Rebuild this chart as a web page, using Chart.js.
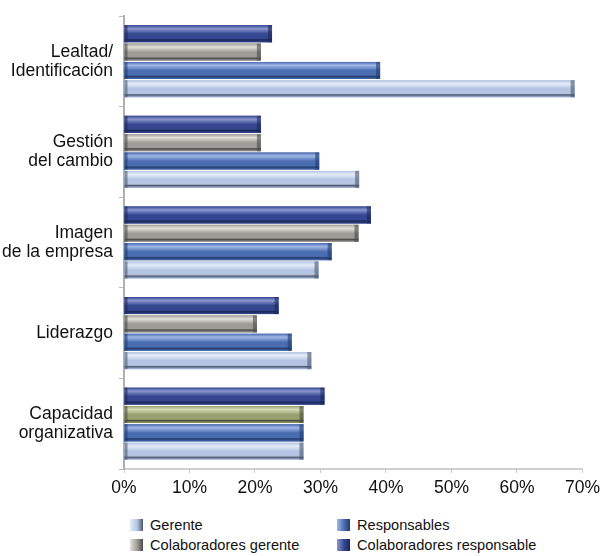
<!DOCTYPE html>
<html>
<head>
<meta charset="utf-8">
<script src="https://cdn.jsdelivr.net/npm/chart.js@4"></script>
<style>
  html,body{margin:0;padding:0;background:#fff;}
  #wrap{position:relative;width:605px;height:556px;font-family:"Liberation Sans",Arial,sans-serif;}
  #c{position:absolute;left:0;top:0;}
  .lg{position:absolute;font-size:14.6px;color:#111;line-height:18px;white-space:nowrap;}
  .lg i{position:absolute;left:-20px;top:3px;width:13px;height:12px;display:block;}
</style>
</head>
<body>
<div id="wrap">
  <canvas id="c" width="605" height="505"></canvas>
  <div id="legend"></div>
</div>
<script>
const categories = [["Lealtad/","Identificación"],["Gestión","del cambio"],["Imagen","de la empresa"],["Liderazgo"],["Capacidad","organizativa"]];
const tickValues = [0,10,20,30,40,50,60,70];
// series listed top bar first within each group
const colabResponsable = [22.6, 20.9, 37.7, 23.6, 30.6];
const colabGerente     = [20.9, 20.9, 35.8, 20.3, 27.4];
const responsables     = [39.1, 29.8, 31.7, 25.6, 27.4];
const gerente          = [68.8, 35.9, 29.7, 28.6, 27.4];

const palette = {
  "Colaboradores responsable": ["#8a98d0","#34468f","#1c2858"],
  "Colaboradores gerente": ["#e2e2da","#9d9c96","#4a4a48"],
  "Responsables": ["#9fb8e8","#4a6cb0","#203a6c"],
  "Gerente": ["#e4ecf8","#b4c4e2","#4c5870"]
};
const oliveCap = ["#d6dcb8","#98a070","#4a4e38"];

const datasets = [
  {label:"Colaboradores responsable", data:colabResponsable},
  {label:"Colaboradores gerente", data:colabGerente},
  {label:"Responsables", data:responsables},
  {label:"Gerente", data:gerente}
].map(d => Object.assign(d,{backgroundColor:palette[d.label][1], borderWidth:0, barPercentage:0.93, categoryPercentage:0.81}));

const shadePlugin = {
  id:'shade',
  afterDatasetsDraw(chart){
    const ctx = chart.ctx;
    chart.data.datasets.forEach((ds,di)=>{
      const meta = chart.getDatasetMeta(di);
      meta.data.forEach((bar,i)=>{
        const p = bar.getProps(['x','y','base','height'], true);
        const left = Math.min(p.x,p.base), w = Math.abs(p.x-p.base);
        const top = p.y - p.height/2, h = p.height;
        let cols = palette[ds.label];
        if (ds.label==="Colaboradores gerente" && i===4) cols = oliveCap;
        const g = ctx.createLinearGradient(0,top,0,top+h);
        g.addColorStop(0,cols[1]);
        g.addColorStop(0.2,cols[0]);
        g.addColorStop(0.5,cols[1]);
        g.addColorStop(0.78,cols[1]);
        g.addColorStop(0.85,cols[2]);
        g.addColorStop(1,cols[1]);
        ctx.save();
        ctx.fillStyle = g;
        ctx.fillRect(left,top,w,h);
        ctx.fillStyle = cols[2];
        ctx.globalAlpha = 0.6;
        ctx.fillRect(left+w-4,top,4,h);
        ctx.fillRect(left,top,3,h);
        ctx.restore();
      });
    });
  }
};

new Chart(document.getElementById('c'),{
  type:'bar',
  data:{labels:categories, datasets},
  options:{
    indexAxis:'y',
    responsive:false,
    animation:false,
    layout:{padding:{top:16,right:19,left:0,bottom:0}},
    plugins:{legend:{display:false},tooltip:{enabled:false}},
    scales:{
      x:{
        min:0,max:70,
        afterBuildTicks(s){ s.ticks = tickValues.map(v=>({value:v})); },
        afterFit(s){ s.height = 36; },
        grid:{drawOnChartArea:false, drawTicks:true, tickLength:4, color:'#c8c8c8'},
        border:{color:'#cfcfcf', width:2},
        ticks:{color:'#111', font:{family:'"Liberation Sans", Arial, sans-serif', size:17.5}, padding:5, callback:v=>v+'%'}
      },
      y:{
        afterFit(s){ s.width = 124; s.paddingTop = 0; s.paddingBottom = 0; },
        grid:{drawOnChartArea:false, tickLength:5, color:'#bbbbbb'},
        border:{color:'#b0b0b0', width:2},
        ticks:{color:'#111', font:{family:'"Liberation Sans", Arial, sans-serif', size:17.5, lineHeight:1.1}, padding:6}
      }
    }
  },
  plugins:[shadePlugin]
});

// HTML legend, two columns
const legendOrder = ["Gerente","Responsables","Colaboradores gerente","Colaboradores responsable"];
const legendPos = [[150,516],[357,516],[150,536],[357,536]];
const lg = document.getElementById('legend');
legendOrder.forEach((name,k)=>{
  const c = palette[name];
  const d = document.createElement('div');
  d.className='lg';
  d.style.left = legendPos[k][0]+'px';
  d.style.top = legendPos[k][1]+'px';
  const box = document.createElement('i');
  box.style.background = `linear-gradient(to right, ${c[0]}, ${c[1]} 55%, ${c[2]})`;
  d.appendChild(box);
  d.appendChild(document.createTextNode(name));
  lg.appendChild(d);
});
</script>
</body>
</html>
